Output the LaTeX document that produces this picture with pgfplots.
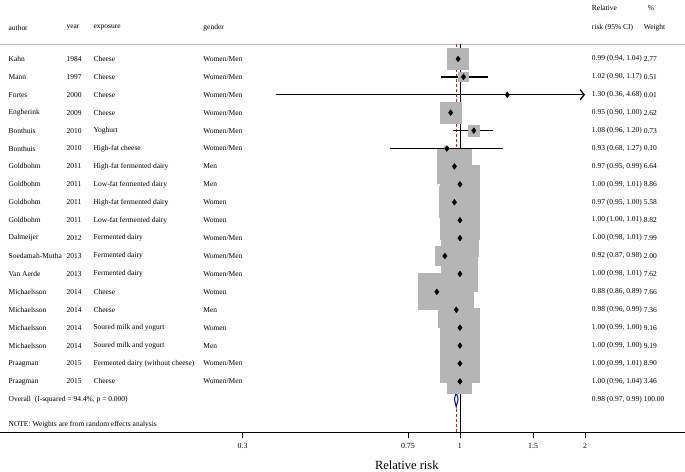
\documentclass[border=0pt]{standalone}
\usepackage{fontspec}
\setmainfont{Liberation Serif}
\usepackage{pgfplots}
\pgfplotsset{compat=1.18}
\usepackage{pgfplotstable}
\usetikzlibrary{arrows.meta}

\definecolor{boxgray}{gray}{0.71}
\definecolor{refred}{RGB}{175,45,45}
\definecolor{ovblue}{RGB}{25,25,140}
\definecolor{sepgray}{gray}{0.75}

\newcommand{\tf}{\fontsize{7.5}{8.5}\selectfont}
\tikzset{txt/.style={anchor=west, font=\tf, inner sep=0pt}}

% i = row from top, rr = relative risk, lo/hi = 95% CI, w = % weight
\pgfplotstableread{
i rr lo hi w
1 0.99 0.94 1.04 2.77
2 1.02 0.90 1.17 0.51
3 1.30 0.36 4.68 0.01
4 0.95 0.90 1.00 2.62
5 1.08 0.96 1.20 0.73
6 0.93 0.68 1.27 0.10
7 0.97 0.95 0.99 6.64
8 1.00 0.99 1.01 8.86
9 0.97 0.95 1.00 5.58
10 1.00 1.00 1.01 8.82
11 1.00 0.98 1.01 7.99
12 0.92 0.87 0.98 2.00
13 1.00 0.98 1.01 7.62
14 0.88 0.86 0.89 7.66
15 0.98 0.96 0.99 7.36
16 1.00 0.99 1.00 9.16
17 1.00 0.99 1.00 9.19
18 1.00 0.99 1.01 8.90
19 1.00 0.96 1.04 3.46
}\studies

% CI segments (Fortes drawn separately, it runs off the scale)
\pgfplotstableread{
x y
0.94 -1
1.04 -1
nan nan
0.90 -2
1.17 -2
nan nan
0.90 -4
1.00 -4
nan nan
0.96 -5
1.20 -5
nan nan
0.68 -6
1.27 -6
nan nan
0.95 -7
0.99 -7
nan nan
0.99 -8
1.01 -8
nan nan
0.95 -9
1.00 -9
nan nan
1.00 -10
1.01 -10
nan nan
0.98 -11
1.01 -11
nan nan
0.87 -12
0.98 -12
nan nan
0.98 -13
1.01 -13
nan nan
0.86 -14
0.89 -14
nan nan
0.96 -15
0.99 -15
nan nan
0.99 -16
1.00 -16
nan nan
0.99 -17
1.00 -17
nan nan
0.99 -18
1.01 -18
nan nan
0.96 -19
1.04 -19
}\cis

\newcommand{\srow}[7]{%
  \node[txt] at (axis cs:0.08195,-#1) {#2};
  \node[txt] at (axis cs:0.1130,-#1) {#3};
  \node[txt] at (axis cs:0.1312,-#1) {#4};
  \node[txt] at (axis cs:0.2412,-#1) {#5};
  \node[txt] at (axis cs:2.076,-#1) {#6};
  \node[txt] at (axis cs:2.768,-#1) {#7};
}

\begin{document}
\begin{tikzpicture}
\begin{axis}[
  scale only axis, width=685pt, height=433pt,
  xmode=log, xmin=0.0784, xmax=3.473,
  ymin=-21.85, ymax=2.29,
  axis x line=bottom, axis y line=none,
  x axis line style={-, line width=0.8pt},
  xtick={0.3,0.75,1,1.5,2}, xticklabels={0.3,0.75,1,1.5,2},
  minor xtick={},
  tick align=outside, major tick length=6pt,
  tick style={black, line width=0.8pt},
  xticklabel style={font=\fontsize{7.9}{9}\selectfont, inner sep=1.5pt, yshift=-3pt},
  xlabel={Relative risk},
  xlabel style={at={(rel axis cs:0.594,0)}, anchor=center, yshift=-33pt,
    inner sep=0pt, font=\fontsize{12.5}{14}\selectfont},
  clip=false,
]
% keep the whole frame in the picture
\path (rel axis cs:0,1) -- (axis cs:1,-24.02);
% header rule
\addplot[sepgray, line width=0.8pt] coordinates {(0.0784,-0.164) (3.473,-0.164)};
% null line and overall effect line
\addplot[black, line width=0.8pt] coordinates {(1,-0.164) (1,-21.85)};
\addplot[refred, line width=0.9pt, dash pattern=on 3pt off 2pt] coordinates {(0.98,-0.164) (0.98,-21.85)};
% weight boxes
\addplot[scatter, only marks, mark=square*,
  scatter/use mapped color={draw=boxgray, fill=boxgray},
  mark options={line width=0pt},
  visualization depends on={6.5*sqrt(\thisrow{w}) \as \msz},
  scatter/@pre marker code/.append style={/tikz/mark size=\msz pt}]
  table[x=rr, y expr=-\thisrow{i}] {\studies};
% confidence intervals
\addplot[black, line width=1.3pt, unbounded coords=jump] table[x=x, y=y] {\cis};
\addplot[black, line width=1.3pt, -{Straight Barb[length=4pt, width=10pt]}] coordinates {(0.36,-3) (2,-3)};
% point estimates
\addplot[only marks, mark=diamond*, mark size=2.9pt, black] table[x=rr, y expr=-\thisrow{i}] {\studies};
% overall diamond
\addplot[draw=ovblue, fill=white, line width=1.1pt] coordinates {(0.97,-20) (0.98,-19.58) (0.99,-20) (0.98,-20.42) (0.97,-20)};

% headers
\node[txt] at (axis cs:0.08195,0.728) {author};
\node[txt] at (axis cs:0.1130,0.728) {year};
\node[txt] at (axis cs:0.1312,0.728) {exposure};
\node[txt] at (axis cs:0.2412,0.728) {gender};
\node[txt] at (axis cs:2.076,1.843) {Relative};
\node[txt] at (axis cs:2.076,0.728) {risk (95\% CI)};
\node[txt] at (axis cs:2.830,1.843) {\%};
\node[txt] at (axis cs:2.768,0.728) {Weight};

\srow{1}{Kahn}{1984}{Cheese}{Women/Men}{0.99 (0.94, 1.04)}{2.77}
\srow{2}{Mann}{1997}{Cheese}{Women/Men}{1.02 (0.90, 1.17)}{0.51}
\srow{3}{Fortes}{2000}{Cheese}{Women/Men}{1.30 (0.36, 4.68)}{0.01}
\srow{4}{Engberink}{2009}{Cheese}{Women/Men}{0.95 (0.90, 1.00)}{2.62}
\srow{5}{Bonthuis}{2010}{Yoghurt}{Women/Men}{1.08 (0.96, 1.20)}{0.73}
\srow{6}{Bonthuis}{2010}{High-fat cheese}{Women/Men}{0.93 (0.68, 1.27)}{0.10}
\srow{7}{Goldbohm}{2011}{High-fat fermented dairy}{Men}{0.97 (0.95, 0.99)}{6.64}
\srow{8}{Goldbohm}{2011}{Low-fat fermented dairy}{Men}{1.00 (0.99, 1.01)}{8.86}
\srow{9}{Goldbohm}{2011}{High-fat fermented dairy}{Women}{0.97 (0.95, 1.00)}{5.58}
\srow{10}{Goldbohm}{2011}{Low-fat fermented dairy}{Women}{1.00 (1.00, 1.01)}{8.82}
\srow{11}{Dalmeijer}{2012}{Fermented dairy}{Women/Men}{1.00 (0.98, 1.01)}{7.99}
\srow{12}{Soedamah-Mutha}{2013}{Fermented dairy}{Women/Men}{0.92 (0.87, 0.98)}{2.00}
\srow{13}{Van Aerde}{2013}{Fermented dairy}{Women/Men}{1.00 (0.98, 1.01)}{7.62}
\srow{14}{Michaelsson}{2014}{Cheese}{Women}{0.88 (0.86, 0.89)}{7.66}
\srow{15}{Michaelsson}{2014}{Cheese}{Men}{0.98 (0.96, 0.99)}{7.36}
\srow{16}{Michaelsson}{2014}{Soured milk and yogurt}{Women}{1.00 (0.99, 1.00)}{9.16}
\srow{17}{Michaelsson}{2014}{Soured milk and yogurt}{Men}{1.00 (0.99, 1.00)}{9.19}
\srow{18}{Praagman}{2015}{Fermented dairy (without cheese)}{Women/Men}{1.00 (0.99, 1.01)}{8.90}
\srow{19}{Praagman}{2015}{Cheese}{Women/Men}{1.00 (0.96, 1.04)}{3.46}
\node[txt] at (axis cs:0.08195,-20) {Overall\ \ (I-squared = 94.4\%, p = 0.000)};
\node[txt] at (axis cs:2.076,-20) {0.98 (0.97, 0.99)};
\node[txt] at (axis cs:2.768,-20) {100.00};
\node[txt] at (axis cs:0.08195,-21.40) {NOTE: Weights are from random effects analysis};
\end{axis}
\end{tikzpicture}
\end{document}
